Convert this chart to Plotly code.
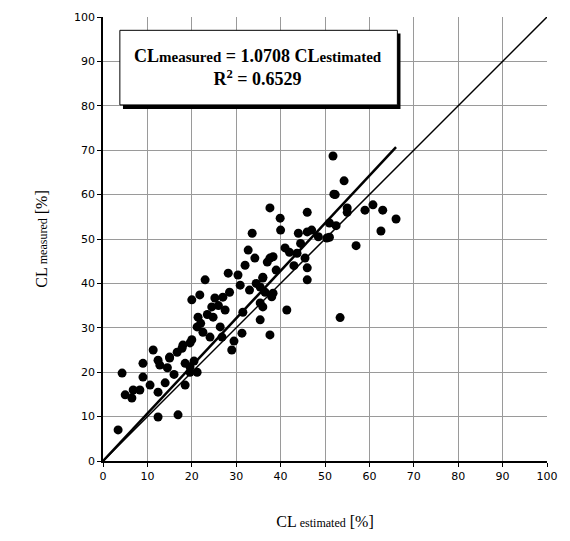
import plotly.graph_objects as go

# Measured vs estimated CL [%]
cl_estimated = [3.4, 4.3, 5.0, 6.5, 6.8, 8.3, 9.0, 9.0, 10.6, 11.3, 12.4, 12.4, 12.4, 12.8, 14.0,
                15.0, 15.0, 16.7, 16.9, 17.8, 18.0, 18.5, 18.5, 19.6, 19.6, 19.6, 20.0, 20.0, 21.2,
                21.2, 21.4, 21.8, 23.0, 24.1, 24.5, 24.8, 25.2, 26.4, 26.8, 27.0, 28.2, 29.0, 30.4,
                30.9, 31.3, 32.0, 32.7, 33.6, 34.2, 35.4, 35.4, 35.4, 36.0, 36.0, 36.0, 37.0, 37.6,
                37.6, 37.6, 38.0, 38.3, 38.3, 39.9, 40.0, 41.0, 41.4, 43.7, 44.0, 45.5, 46.0, 46.0,
                46.0, 46.0, 50.4, 51.0, 51.0, 51.8, 52.0, 52.3, 52.5, 53.4, 54.3, 55.0, 55.0, 57.0,
                59.0, 60.8, 62.6, 63.0, 66.0, 22.0, 23.5, 26.0, 28.5, 29.5, 31.5, 33.0, 39.0, 42.0,
                43.0, 44.5, 47.0, 14.5, 16.0, 20.5, 22.5, 27.5, 34.5, 36.5, 48.5]
cl_measured = [7.0, 19.8, 14.9, 14.2, 16.0, 16.0, 18.9, 22.0, 17.1, 25.0, 22.7, 9.9, 15.5, 21.6, 17.6,
               23.2, 23.4, 24.5, 10.4, 25.4, 26.1, 22.0, 17.1, 26.6, 20.0, 21.2, 27.3, 36.3, 20.0,
               30.2, 32.4, 37.4, 40.8, 27.9, 34.7, 32.4, 36.7, 30.2, 27.9, 36.9, 42.3, 25.0, 41.9,
               39.6, 28.8, 44.1, 47.5, 51.3, 45.7, 35.6, 31.8, 39.2, 41.2, 41.4, 34.7, 44.8, 45.7,
               57.0, 28.4, 37.0, 46.0, 37.8, 54.7, 52.0, 48.0, 34.0, 46.8, 51.3, 45.7, 56.0, 51.6,
               43.5, 40.8, 50.2, 53.6, 50.4, 68.7, 60.1, 60.0, 53.0, 32.3, 63.1, 57.0, 56.0, 48.5,
               56.5, 57.7, 51.8, 56.5, 54.5, 31.0, 33.0, 35.0, 38.0, 27.0, 33.5, 38.5, 43.0, 47.0,
               44.0, 49.0, 52.0, 21.0, 19.5, 22.5, 29.0, 34.0, 40.0, 38.0, 50.5]

fit_slope = 1.0708
fit_x = [0, 66]
fit_y = [fit_slope * v for v in fit_x]
one_to_one = [0, 100]
tick_values = list(range(0, 101, 10))

fig = go.Figure()
fig.add_trace(go.Scatter(x=one_to_one, y=one_to_one, mode="lines",
                         line=dict(color="black", width=1.5), showlegend=False))
fig.add_trace(go.Scatter(x=fit_x, y=fit_y, mode="lines",
                         line=dict(color="black", width=2.5), showlegend=False))
fig.add_trace(go.Scatter(x=cl_estimated, y=cl_measured, mode="markers",
                         marker=dict(color="black", size=9), showlegend=False))

axis_common = dict(range=[0, 100], tickvals=tick_values, showgrid=True, gridcolor="#9a9a9a",
                   gridwidth=1, showline=True, linecolor="black", linewidth=1.5,
                   ticks="outside", ticklen=4, tickcolor="black", zeroline=False,
                   automargin=False,
                   tickfont=dict(family="DejaVu Sans", size=11, color="black"))

fig.update_layout(
    width=562, height=533,
    margin=dict(l=95, r=23, t=9, b=80),
    paper_bgcolor="white", plot_bgcolor="white",
    font=dict(family="Liberation Serif", color="black"),
    xaxis=dict(**axis_common,
               title=dict(text="CL<span style='font-size:12px'> estimated</span> [%]",
                          font=dict(family="Liberation Serif", size=16), standoff=34)),
    yaxis=dict(**axis_common,
               title=dict(text="CL<span style='font-size:12px'> measured</span> [%]",
                          font=dict(family="Liberation Serif", size=16), standoff=22)),
)

# shadow box then box
fig.add_shape(type="rect", xref="x", yref="y", x0=4.5, x1=67.0, y0=79.3, y1=96.3,
              fillcolor="black", line=dict(width=0), layer="above")
fig.add_shape(type="rect", xref="x", yref="y", x0=3.8, x1=66.3, y0=80.2, y1=97.0,
              fillcolor="white", line=dict(color="black", width=1), layer="above")
fig.add_annotation(x=35.0, y=88.6, xref="x", yref="y", showarrow=False,
                   text="<b>CL<span style='font-size:15px'>measured</span> = 1.0708 CL<span style='font-size:15px'>estimated</span></b><br><b>R<sup>2</sup> = 0.6529</b>",
                   font=dict(family="Liberation Serif", size=18, color="black"),
                   align="center")

fig.write_html("out.html")
